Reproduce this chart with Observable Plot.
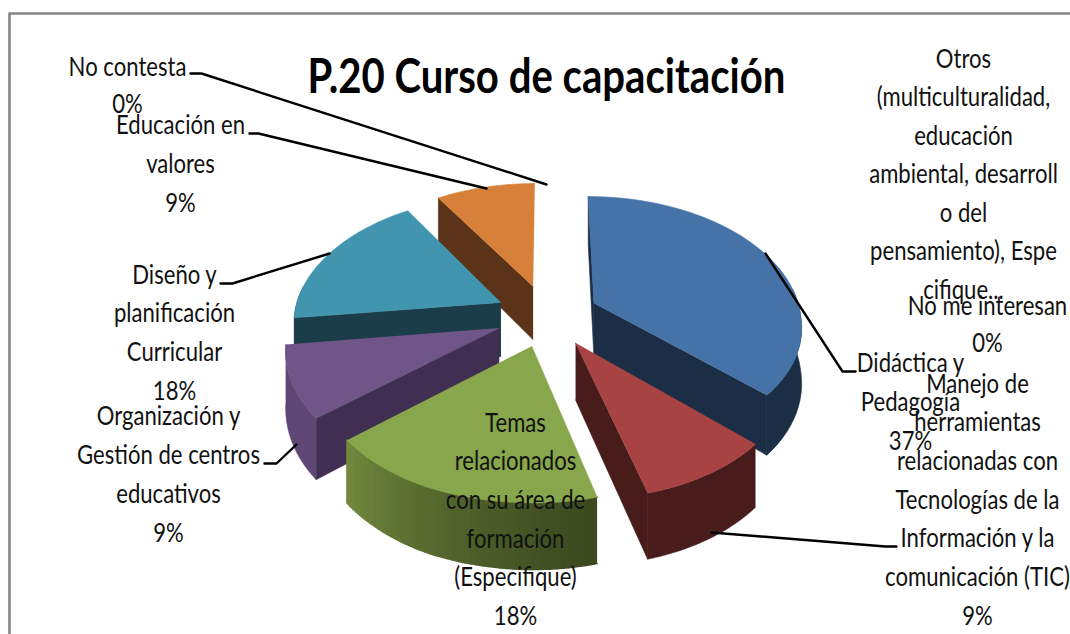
<!DOCTYPE html>
<html>
<head>
<meta charset="utf-8">
<script src="https://cdn.jsdelivr.net/npm/d3@7"></script>
<script src="https://cdn.jsdelivr.net/npm/@observablehq/plot@0.6"></script>
<style>
html,body{margin:0;padding:0;background:#fff;overflow:hidden}
svg{display:block}
</style>
</head>
<body>
<div id="chart"></div>
<script>
// ---- chart values ----
const categories = ["Didáctica y Pedagogía","Manejo de herramientas relacionadas con Tecnologías de la Información y la comunicación (TIC)","Temas relacionados con su área de formación (Especifique)","Organización y Gestión de centros educativos","Diseño y planificación Curricular","Educación en valores","No contesta","Otros (multiculturalidad, educación ambiental, desarrollo del pensamiento), Especifique...","No me interesan"];
const percents = [37, 9, 18, 9, 18, 9, 0, 0, 0];
const topColors = ["#4673a7","#a74443","#88a64b","#705589","#4195ae","#d7803a"];
const wallColors = ["#1b2e45","#471c1a","#5c7033","#402f52","#1b3d49","#5a3318"];
const rimColors = ["#1b2e45","#471c1a","#6d853b","#5f4775","#1b3d49","#5a3318"];
const title = "P.20 Curso de capacitación";

// ---- label lines (text only) ----
const labelLines = [
  ["No contesta","0%"],
  ["Educación en","valores","9%"],
  ["Diseño y","planificación","Curricular","18%"],
  ["Organización y","Gestión de centros","educativos","9%"],
  ["Temas","relacionados","con su área de","formación","(Especifique)","18%"],
  ["Otros","(multiculturalidad,","educación","ambiental, desarroll","o del","pensamiento), Espe","cifique..."],
  ["No me interesan","0%"],
  ["Didáctica y","Pedagogía","37%"],
  ["Manejo de","herramientas","relacionadas con","Tecnologías de la","Información y la","comunicación (TIC)","9%"]
];

// ---- layout ----
const W = 1070, H = 634;
const labelLayout = [
  {cx:127, top:75,  step:37},
  {cx:180, top:133, step:39},
  {cx:174, top:283, step:38.7},
  {cx:168, top:424, step:39},
  {cx:515, top:431, step:38.7},
  {cx:963, top:67,  step:38.5},
  {cx:987, top:314, step:37},
  {cx:910, top:371, step:39},
  {cx:977, top:392, step:38.7}
];
const leaderLayout = [
  [[190,73],[201,73],[546,184]],
  [[249,133],[258,133],[486,188]],
  [[220,283],[232,283],[329,253]],
  [[264,463],[276,463],[296,444]],
  [[855,371],[842,371],[765,253]],
  [[896,546],[885,546],[711,532]]
];
const pie = {cx:546.6, cy:315, A:207, B:125, p:0.141, e:0.25, D:55, shear:6};
const fontFamily = "Lato,'Liberation Sans',sans-serif";

function project(X, Y, drop) {
  const s = 1 / (1 - pie.p * Y);
  const fade = X > 0 ? 1 : Math.max(0, 1 + 2 * X);
  return {x: pie.cx + pie.A * X * s + pie.shear * Math.max(Y, 0) * fade, y: pie.cy + pie.B * Y * s + (drop ? pie.D * s : 0)};
}

const marks = [];
const poly = (pts, color, sw = 0.6) => marks.push(Plot.line(pts, {x:"x", y:"y", fill:color, stroke:color, strokeWidth:sw, curve:"linear"}));

// frame
marks.push(Plot.line([{x:W,y:13},{x:9,y:13},{x:9,y:H}], {x:"x", y:"y", stroke:"#868686", strokeWidth:2.6}));

// slices, from the slice values
const total = d3.sum(percents);
let acc = 0;
const slices = percents.map((v, i) => {
  const a0 = acc / total * 2 * Math.PI; acc += v;
  const a1 = acc / total * 2 * Math.PI;
  return {i, v, a0, a1};
}).filter(d => d.v > 0);

function drawSlice(d) {
  const mid = (d.a0 + d.a1) / 2;
  const ox = pie.e * Math.sin(mid), oy = -pie.e * Math.cos(mid);
  const n = 48;
  const ang = d3.range(n + 1).map(k => d.a0 + (d.a1 - d.a0) * k / n);
  const rim = (a, drop) => project(ox + Math.sin(a), oy - Math.cos(a), drop);
  const apexT = project(ox, oy, false), apexB = project(ox, oy, true);
  // cut walls, only those that face the viewer
  if (Math.sin(d.a0) <= 0) poly([apexT, rim(d.a0,false), rim(d.a0,true), apexB], wallColors[d.i]);
  if (Math.sin(d.a1) > 1e-9) poly([apexT, rim(d.a1,false), rim(d.a1,true), apexB], wallColors[d.i]);
  // outer wall, only its front part
  if (d.i === 2) {
    const shade = d3.interpolateRgb("#3c4a20", "#71893d");
    for (let k = 0; k < n; k++) {
      const a = ang[k], b = ang[k + 1];
      const t = Math.pow(k / (n - 1), 1.3);
      poly([rim(a,false), rim(b,false), rim(b,true), rim(a,true)], shade(t), 1.4);
    }
  } else {
    const front = ang.filter(a => Math.cos(a) < 0.15);
    if (front.length > 1) poly([...front.map(a => rim(a,false)), ...front.slice().reverse().map(a => rim(a,true))], rimColors[d.i]);
  }
  // top face
  poly([apexT, ...ang.map(a => rim(a,false))], topColors[d.i]);
}
[5,4,0,3,1,2].forEach(i => drawSlice(slices.find(s => s.i === i)));

// leaders
leaderLayout.forEach(seg => marks.push(Plot.line(seg.map(([x,y]) => ({x,y})), {x:"x", y:"y", stroke:"#000", strokeWidth:2.4, curve:"linear"})));

// labels
const textRows = labelLines.flatMap((lines, i) => lines.map((t, j) => ({t, x:labelLayout[i].cx, y:labelLayout[i].top + j * labelLayout[i].step})));
marks.push(Plot.text(textRows, {x:"x", y:"y", text:"t", lineAnchor:"bottom", textAnchor:"middle", fontSize:26, fill:"#111", fontFamily, className:"lbl"}));

// title
marks.push(Plot.text([title], {x:()=>546, y:()=>92, text:d=>d, lineAnchor:"bottom", textAnchor:"middle", fontSize:48, fontWeight:"bold", fill:"#000", fontFamily, className:"ttl"}));

const chart = Plot.plot({
  width:W, height:H, margin:0,
  x:{domain:[0,W], range:[0,W], axis:null},
  y:{domain:[0,H], range:[0,H], axis:null},
  style:{background:"#fff"},
  marks
});
document.getElementById("chart").append(chart);

// the reference's type is narrow: condense the glyphs horizontally to the measured widths
const squeeze = (el, f) => el.setAttribute("transform", (el.getAttribute("transform") || "") + ` scale(${f},1)`);
const rows = [...chart.querySelectorAll(".lbl text")];
const probe = rows.find(e => e.textContent === "Gestión de centros");
const factor = probe ? 183 / probe.getComputedTextLength() : 0.87;
rows.forEach(e => squeeze(e, factor));
chart.querySelectorAll(".ttl text").forEach(e => squeeze(e, 478 / e.getComputedTextLength()));
</script>
</body>
</html>
